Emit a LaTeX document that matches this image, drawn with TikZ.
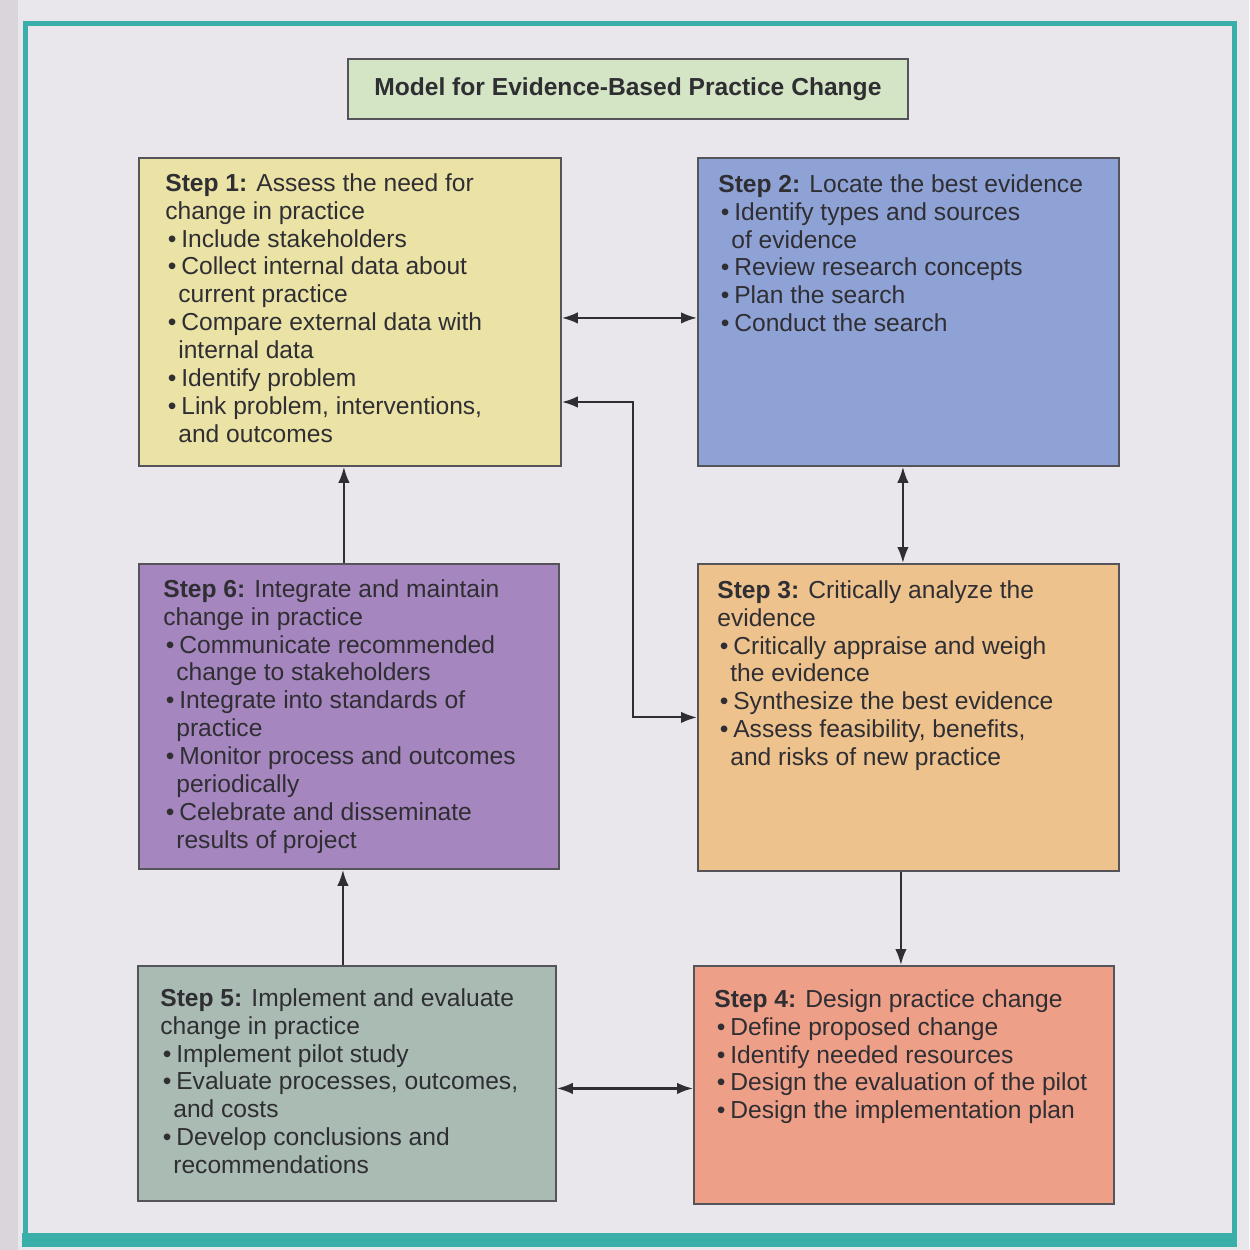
\documentclass[tikz,border=0pt]{standalone}
\usepackage{fontspec}
\setmainfont{Liberation Sans}
\usetikzlibrary{arrows.meta}

\definecolor{pagebg}{HTML}{E9E6EC}
\definecolor{pageedge}{HTML}{D9D5DB}
\definecolor{frameteal}{HTML}{3AAEA8}
\definecolor{titlegreen}{HTML}{D4E5C5}
\definecolor{yellowbox}{HTML}{EBE3A6}
\definecolor{bluebox}{HTML}{8FA2D6}
\definecolor{orangebox}{HTML}{EEC28D}
\definecolor{salmonbox}{HTML}{EE9F88}
\definecolor{greybox}{HTML}{A9BBB2}
\definecolor{purplebox}{HTML}{A686BF}
\definecolor{inkgrey}{HTML}{2F2E33}
\definecolor{edgegrey}{HTML}{55545A}

\newcommand{\bul}{\makebox[0.32cm][l]{\hspace{0.05cm}\textbullet}}
\newcommand{\ind}{\hspace*{0.26cm}}

\begin{document}
\begin{tikzpicture}[x=0.02cm,y=-0.02cm,>={Latex[length=3.2mm,width=2.3mm]},
  box/.style={draw=edgegrey,line width=1.1pt,anchor=north west,inner sep=0pt},
  txt/.style={anchor=north west,inner sep=0pt,align=left,text=inkgrey,
    font=\fontsize{14}{15.9}\selectfont},
  link/.style={draw=inkgrey,line width=1.2pt}]
  \useasboundingbox (0,0) rectangle (1249,1250);
  \fill[pagebg] (0,0) rectangle (1249,1250);
  \fill[pageedge] (0,0) rectangle (18,1250);
  % frame
  \draw[frameteal,line width=0.1cm] (25,24) rectangle (1234,1238);
  \fill[frameteal] (22,1233) rectangle (1237,1247);

  % title
  \node[box,fill=titlegreen,minimum width=11.2cm,minimum height=1.2cm] (title) at (347,58) {};
  \node[text=inkgrey,font=\fontsize{14}{16}\selectfont\bfseries] (ttl) at (title.center) {Model for Evidence-Based Practice Change};

  % step boxes
  \node[box,fill=yellowbox,minimum width=8.44cm,minimum height=6.16cm] (s1) at (138,157) {};
  \node[box,fill=bluebox,minimum width=8.42cm,minimum height=6.16cm] (s2) at (697,157) {};
  \node[box,fill=orangebox,minimum width=8.42cm,minimum height=6.14cm] (s3) at (697,563) {};
  \node[box,fill=salmonbox,minimum width=8.4cm,minimum height=4.76cm] (s4) at (693,965) {};
  \node[box,fill=greybox,minimum width=8.36cm,minimum height=4.7cm] (s5) at (137,965) {};
  \node[box,fill=purplebox,minimum width=8.4cm,minimum height=6.1cm] (s6) at (138,563) {};

  % step texts
  \node[txt] (t1) at ([shift={(0.54cm,-0.32cm)}]s1.north west) {\textbf{Step 1:} Assess the need for\\
    change in practice\\
    \bul Include stakeholders\\
    \bul Collect internal data about\\
    \ind current practice\\
    \bul Compare external data with\\
    \ind internal data\\
    \bul Identify problem\\
    \bul Link problem, interventions,\\
    \ind and outcomes};
  \node[txt] (t2) at ([shift={(0.42cm,-0.34cm)}]s2.north west) {\textbf{Step 2:} Locate the best evidence\\
    \bul Identify types and sources\\
    \ind of evidence\\
    \bul Review research concepts\\
    \bul Plan the search\\
    \bul Conduct the search};
  \node[txt] (t3) at ([shift={(0.4cm,-0.34cm)}]s3.north west) {\textbf{Step 3:} Critically analyze the\\
    evidence\\
    \bul Critically appraise and weigh\\
    \ind the evidence\\
    \bul Synthesize the best evidence\\
    \bul Assess feasibility, benefits,\\
    \ind and risks of new practice};
  \node[txt] (t4) at ([shift={(0.42cm,-0.48cm)}]s4.north west) {\textbf{Step 4:} Design practice change\\
    \bul Define proposed change\\
    \bul Identify needed resources\\
    \bul Design the evaluation of the pilot\\
    \bul Design the implementation plan};
  \node[txt] (t5) at ([shift={(0.46cm,-0.46cm)}]s5.north west) {\textbf{Step 5:} Implement and evaluate\\
    change in practice\\
    \bul Implement pilot study\\
    \bul Evaluate processes, outcomes,\\
    \ind and costs\\
    \bul Develop conclusions and\\
    \ind recommendations};
  \node[txt] (t6) at ([shift={(0.5cm,-0.32cm)}]s6.north west) {\textbf{Step 6:} Integrate and maintain\\
    change in practice\\
    \bul Communicate recommended\\
    \ind change to stakeholders\\
    \bul Integrate into standards of\\
    \ind practice\\
    \bul Monitor process and outcomes\\
    \ind periodically\\
    \bul Celebrate and disseminate\\
    \ind results of project};

  % connectors
  \coordinate (k) at (633,402);
  \draw[link,<->] ([yshift=-0.12cm]s1.east) -- ([yshift=-0.12cm]s2.west);
  \draw[link,<->] (s1.east |- k) -- (k) |- (s3.west);
  \draw[link,->] ([xshift=-0.1cm]s6.north) -- ([xshift=-0.1cm]s6.north |- s1.south);
  \draw[link,<->] ([xshift=-0.11cm]s2.south) -- ([xshift=-0.11cm]s2.south |- s3.north);
  \draw[link,->] ([xshift=-0.15cm]s3.south) -- ([xshift=-0.15cm]s3.south |- s4.north);
  \draw[link,<->] ([yshift=-0.1cm]s5.east) -- ([yshift=-0.1cm]s5.east -| s4.west);
  \draw[link,->] ([xshift=-0.08cm]s5.north) -- ([xshift=-0.08cm]s5.north |- s6.south);
\end{tikzpicture}
\end{document}
